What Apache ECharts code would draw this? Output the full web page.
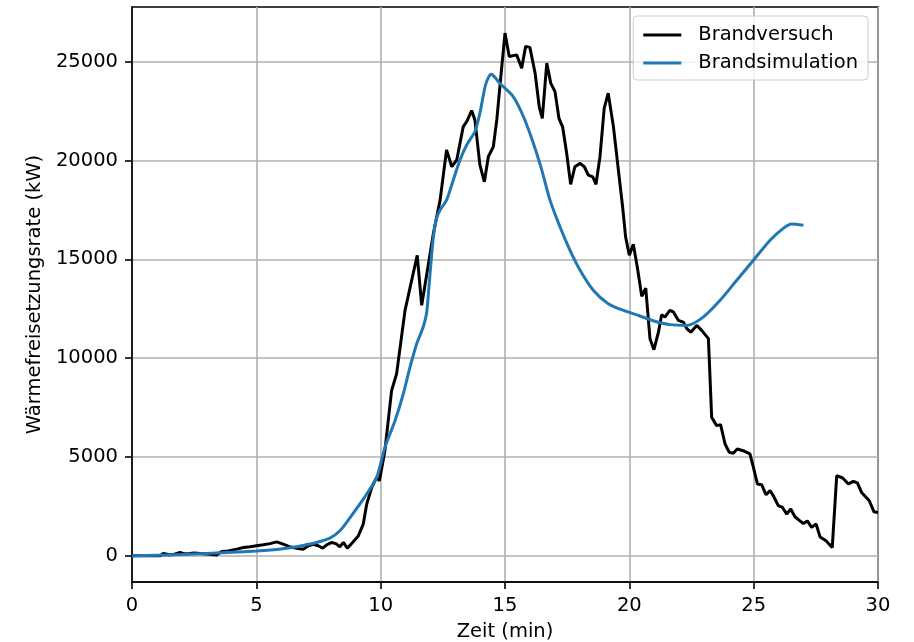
<!DOCTYPE html>
<html>
<head>
<meta charset="utf-8">
<script src="https://cdn.jsdelivr.net/npm/echarts@6/dist/echarts.min.js"></script>
<style>html,body{margin:0;padding:0;background:#fff;}#c{width:914px;height:642px;}</style>
</head>
<body>
<div id="c"></div>
<script>
// Brandversuch (Messung)
const versuchZeit = [0,1.13,1.26,1.5,1.68,1.93,2.1,2.33,2.5,2.73,3.14,3.40,3.61,3.87,4.21,4.48,4.75,5.01,5.28,5.55,5.82,6.08,6.35,6.62,6.89,7.09,7.29,7.49,7.67,7.83,8.03,8.20,8.36,8.50,8.66,8.87,9.10,9.30,9.44,9.64,9.84,9.95,10.17,10.44,10.64,10.98,11.47,11.65,12.12,12.39,12.65,12.86,13.06,13.32,13.46,13.66,13.79,13.99,14.17,14.33,14.53,14.67,14.87,15.00,15.17,15.47,15.67,15.83,16.00,16.21,16.38,16.50,16.68,16.84,17.01,17.17,17.32,17.48,17.64,17.81,18.02,18.19,18.35,18.53,18.66,18.82,18.99,19.15,19.36,19.56,19.73,19.85,20.00,20.16,20.32,20.50,20.66,20.83,20.99,21.17,21.30,21.43,21.63,21.77,21.97,22.17,22.31,22.47,22.71,22.91,23.18,23.31,23.51,23.67,23.85,24.02,24.18,24.34,24.58,24.85,24.99,25.15,25.32,25.50,25.66,25.79,25.99,26.16,26.33,26.49,26.66,26.86,27.00,27.16,27.33,27.51,27.67,27.91,28.16,28.34,28.58,28.81,29.01,29.17,29.34,29.65,29.84,30.00];
const versuchHRR = [0,0,120,60,70,170,110,120,150,120,80,50,220,250,340,420,460,510,560,620,710,590,460,390,340,510,590,510,390,560,680,620,460,680,390,680,1010,1610,2620,3460,3970,3800,5320,8370,9210,12420,15210,12680,16310,18000,20540,19690,20030,21720,21970,22530,22060,19780,18930,20200,20700,22060,24760,26450,25270,25350,24680,25780,25730,24430,22700,22140,24930,23920,23490,22140,21690,20370,18800,19690,19860,19690,19270,19180,18800,20200,22650,23410,21720,19520,17660,16140,15210,15770,14620,13130,13550,10990,10430,11320,12200,12080,12420,12340,11920,11830,11500,11320,11660,11410,10990,7020,6590,6640,5660,5240,5190,5410,5320,5160,4480,3640,3600,3090,3300,3040,2540,2450,2110,2370,1980,1770,1640,1770,1440,1610,960,760,420,4060,3940,3640,3770,3690,3210,2790,2230,2200];
// Brandsimulation
const simZeit = [0,2,4,5,6,6.62,7.0,7.43,7.96,8.36,8.77,9.30,9.84,10.17,10.58,10.91,11.18,11.45,11.71,11.85,11.92,12.02,12.12,12.25,12.39,12.65,12.92,13.19,13.46,13.79,13.99,14.20,14.35,14.46,14.60,14.80,15.33,15.74,16.14,16.48,16.81,17.21,17.61,18.02,18.55,19.15,19.76,20.4,20.96,21.63,22.31,22.97,23.65,24.32,24.99,25.66,26.19,26.53,27.00];
const simHRR = [0,70,180,250,350,460,560,680,900,1270,1940,2870,3970,5490,6850,8200,9550,10730,11580,12300,13270,14800,16140,17100,17500,18000,19020,20030,20790,21470,22400,23750,24250,24370,24200,23900,23240,22230,20880,19520,18000,16650,15470,14450,13440,12760,12420,12150,11900,11700,11660,12080,12930,13950,14960,15970,16570,16790,16730];
const xTicks = [0,5,10,15,20,25,30];
const yTicks = [0,5000,10000,15000,20000,25000];
const seriesNames = ['Brandversuch','Brandsimulation'];
const xName = 'Zeit (min)';
const yName = 'Wärmefreisetzungsrate (kW)';

const font = 'DejaVu Sans';
const fs = 19.5;
const chart = echarts.init(document.getElementById('c'), null, {renderer:'canvas'});
const pair = (xs, ys) => xs.map((x,i)=>[x, ys[i]]);
chart.setOption({
  animation:false,
  backgroundColor:'#ffffff',
  grid:{left:132,right:36,top:7,bottom:60,containLabel:false,outerBoundsMode:'none',
    show:true,borderColor:'#000',borderWidth:1.6,backgroundColor:'transparent'},
  legend:{
    orient:'vertical', right:46, top:16,
    data:seriesNames,
    icon:'rect', itemWidth:38, itemHeight:3, itemGap:4,
    padding:[7,10,5,10],
    backgroundColor:'rgba(255,255,255,0.8)',
    borderColor:'#cccccc', borderWidth:1, borderRadius:4,
    textStyle:{fontFamily:font,fontSize:fs,color:'#000',lineHeight:24,padding:[0,0,0,12]}
  },
  xAxis:{
    type:'value', min:0, max:30, interval:5,
    name:xName, nameLocation:'middle', nameGap:40,
    nameTextStyle:{fontFamily:font,fontSize:fs,color:'#000'},
    axisLine:{show:true,onZero:false,lineStyle:{color:'#000',width:1.6}},
    axisTick:{show:true,length:7,lineStyle:{color:'#000',width:1.6}},
    axisLabel:{fontFamily:font,fontSize:fs,color:'#000',margin:14,
      formatter:v=>xTicks.indexOf(v)>=0?String(v):''},
    splitLine:{show:true,lineStyle:{color:'#b0b0b0',width:1.6}}
  },
  yAxis:{
    type:'value', min:-1322, max:27772,
    name:yName, nameLocation:'middle', nameGap:83, nameRotate:90,
    nameTextStyle:{fontFamily:font,fontSize:fs,color:'#000'},
    axisLine:{show:true,onZero:false,lineStyle:{color:'#000',width:1.6}},
    axisTick:{show:true,length:7,customValues:yTicks,lineStyle:{color:'#000',width:1.6}},
    axisLabel:{fontFamily:font,fontSize:fs,color:'#000',margin:14,customValues:yTicks,
      formatter:v=>String(v)},
    splitLine:{show:true,lineStyle:{color:'#b0b0b0',width:1.6}}
  },
  series:[
    {name:seriesNames[0],type:'line',data:pair(versuchZeit,versuchHRR),showSymbol:false,symbol:'none',
     lineStyle:{color:'#000000',width:3},itemStyle:{color:'#000000'},z:2},
    {name:seriesNames[1],type:'line',data:pair(simZeit,simHRR),showSymbol:false,symbol:'none',smooth:0.25,
     lineStyle:{color:'#1f77b4',width:3},itemStyle:{color:'#1f77b4'},z:3}
  ]
});
</script>
</body>
</html>
